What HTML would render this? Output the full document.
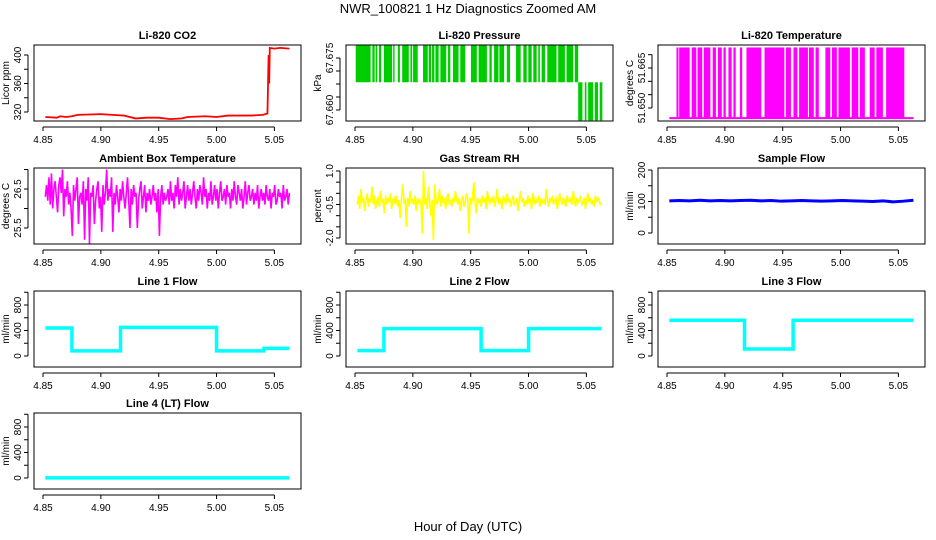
<!DOCTYPE html>
<html><head><meta charset="utf-8"><style>
body{margin:0;background:#fff;}
svg{display:block;font-family:"Liberation Sans",sans-serif;}
</style></head><body>
<svg id="c" width="936" height="540">
<text x="468" y="13" text-anchor="middle" font-size="13">NWR_100821  1 Hz Diagnostics Zoomed AM</text>
<text x="468" y="531" text-anchor="middle" font-size="13">Hour of Day (UTC)</text>
</svg>
<script>
// ---- data ----
const xTicks=[4.85,4.90,4.95,5.00,5.05];
const xTickLabels=["4.85","4.90","4.95","5.00","5.05"];
const tStart=4.852, tEnd=5.063;
const co2T=[4.852,4.862,4.865,4.870,4.875,4.880,4.900,4.910,4.920,4.930,4.940,4.950,4.960,4.970,4.975,4.990,5.000,5.010,5.030,5.040,5.044,5.045,5.0455,5.046,5.050,5.055,5.063];
const co2V=[313,312,314,313,314,316,317,316,315,311,312,312,310,311,313,314,313,315,315,316,318,400,360,410,409,410,409];
const presHigh=[[4.8506,4.8635],[4.865,4.867],[4.8678,4.8692],[4.8707,4.8727],[4.875,4.8821],[4.883,4.8842],[4.887,4.8888],[4.8908,4.8965],[4.8979,4.8994],[4.9002,4.9042],[4.9088,4.9129],[4.9137,4.9157],[4.9166,4.9186],[4.9195,4.9223],[4.9238,4.9289],[4.9304,4.9324],[4.9347,4.9395],[4.941,4.9453],[4.9502,4.9553],[4.9568,4.964],[4.9662,4.9682],[4.9702,4.974],[4.9748,4.9789],[4.9812,4.984],[4.9892,4.9932],[4.9955,4.9984],[4.9998,5.0027],[5.0041,5.007],[5.0084,5.0098],[5.0113,5.0142],[5.0162,5.0242],[5.0256,5.0314],[5.0328,5.0386],[5.04,5.0429]];
const presLow=[[5.0429,5.0466],[5.0486,5.05],[5.0515,5.0558],[5.0572,5.06],[5.0615,5.0638]];
const presLevels=[67.657,67.668,67.679];
const tempHigh=[[4.8582,4.8599],[4.8605,4.8696],[4.8713,4.8753],[4.8764,4.8804],[4.8818,4.8875],[4.8895,4.8923],[4.894,4.8974],[4.8988,4.9008],[4.9031,4.9059],[4.9074,4.9094],[4.913,4.915],[4.9187,4.9315],[4.9343,4.9514],[4.9528,4.9571],[4.9593,4.9627],[4.9642,4.9718],[4.9727,4.9769],[4.9784,4.9812],[4.9869,4.9911],[4.9926,4.9968],[4.9982,5.0081],[5.0096,5.0153],[5.0167,5.021],[5.0252,5.0295],[5.0309,5.0366],[5.0394,5.0551]];
const tempLevels=[51.6462,51.6727];
const ambV=[26.3,26.6,26.2,26.8,26.1,26.9,26.0,26.5,26.7,26.3,25.9,26.6,26.8,26.4,27.0,25.8,26.5,26.3,26.7,26.1,26.4,26.0,25.3,26.6,26.2,26.5,26.8,25.6,26.3,26.4,26.1,26.7,25.2,26.5,26.2,26.8,25.1,26.4,26.3,26.6,25.6,26.2,26.5,26.7,26.0,26.3,25.4,26.6,26.1,26.4,27.0,26.2,26.5,26.3,26.8,25.4,26.4,26.1,26.6,26.3,25.9,26.5,26.2,26.7,26.3,26.0,26.4,26.8,26.2,25.5,26.5,26.1,26.6,26.3,26.4,25.5,26.2,26.5,26.7,26.0,26.3,26.6,25.9,26.4,26.2,26.5,26.1,26.3,26.6,26.2,26.4,25.9,26.5,25.3,26.3,26.6,26.1,26.4,26.2,26.3,
26.5,26.1,26.7,26.2,26.4,26.0,26.6,26.3,26.8,26.1,26.5,26.2,26.4,26.7,26.0,26.3,26.6,26.2,26.5,26.1,26.4,26.7,26.3,26.0,26.5,26.2,26.6,26.4,26.1,26.8,26.3,26.5,26.0,26.4,26.2,26.7,26.1,26.3,26.6,26.2,26.5,26.0,26.4,26.7,26.2,26.3,26.5,26.1,26.6,26.3,26.4,26.0,26.5,26.2,26.7,26.3,26.1,26.6,26.4,26.2,26.5,26.0,26.3,26.7,26.1,26.4,26.6,26.2,26.3,26.5,26.1,26.4,26.2,26.6,26.0,26.3,26.5,26.2,26.4,26.1,26.6,26.3,26.2,26.5,26.0,26.4,26.3,26.6,26.1,26.2,26.5,26.3,26.4,26.0,26.6,26.2,26.3,26.5,26.1,26.4];
const rhV=[-0.5,-0.1,-0.7,0.2,-0.4,-0.2,-0.8,-0.3,0.0,-0.6,-0.2,-0.4,0.3,-0.5,-0.1,-0.7,-0.3,-0.2,-0.6,0.1,-0.4,-0.3,-0.9,-0.1,-0.5,-0.2,-0.4,0.0,-0.7,-0.3,-0.2,-0.5,-0.1,-0.6,-0.3,-1.1,-0.2,0.4,-0.4,-0.3,-1.5,-0.2,-0.6,0.1,-0.4,-0.3,-0.5,-0.1,-0.8,-0.2,-0.4,-0.3,-0.6,-1.8,1.0,-0.5,-0.2,-0.7,0.3,-0.4,-1.0,-0.3,-2.1,0.4,-0.2,-0.5,-0.3,0.2,-0.6,-0.1,-0.4,-0.3,-0.7,-0.2,0.0,-0.5,-0.3,-0.6,-0.2,-0.4,0.1,-0.3,-0.5,-0.2,-0.8,-0.3,-0.1,-0.6,-0.4,0.0,-0.3,-1.8,-0.2,-0.5,-0.1,0.5,-0.4,-0.9,-0.2,-0.4,
-0.3,-0.6,-0.1,-0.4,-0.2,-0.7,0.1,-0.3,-0.5,-0.2,-0.4,-0.1,-0.6,-0.3,0.2,-0.5,-0.2,-0.4,-0.7,-0.1,-0.3,-0.5,0.0,-0.4,-0.2,-0.6,-0.3,-0.1,-0.5,-0.4,-0.2,-0.8,-0.3,0.1,-0.4,-0.2,-0.6,-0.3,-0.5,-0.1,-0.4,-0.3,-0.7,0.0,-0.2,-0.5,-0.3,-0.4,-0.1,-0.6,-0.2,-0.4,-0.3,-0.5,0.2,-0.3,-0.6,-0.2,-0.4,-0.1,-0.5,-0.3,-0.2,-0.7,-0.4,0.0,-0.3,-0.5,-0.2,-0.4,-0.6,-0.1,-0.3,-0.4,-0.2,-0.5,0.1,-0.3,-0.6,-0.2,-0.4,-0.3,-0.1,-0.5,-0.4,-0.2,-0.7,-0.3,0.0,-0.4,-0.2,-0.5,-0.3,-0.6,-0.1,-0.4,-0.2,-0.3,-0.5,-0.4];
const sampV=[102,103,102,104,102,103,102,103,104,102,103,101,102,103,102,101,102,103,102,101,100,102,99,101,104];
const line1T=[4.852,4.875,4.917,5.000,5.041,5.063];
const line1V=[440,80,450,80,120];
const line2T=[4.852,4.875,4.959,5.000,5.063];
const line2V=[85,430,85,430];
const line3T=[4.852,4.917,4.959,5.063];
const line3V=[560,110,560];
const line4T=[4.852,5.063];
const line4V=[2];
// ---- layout ----
const NS="http://www.w3.org/2000/svg";
const svg=document.getElementById('c');
function el(tag,attrs,parent){const e=document.createElementNS(NS,tag);for(const k in attrs)e.setAttribute(k,attrs[k]);(parent||svg).appendChild(e);return e;}
const cols=[34,346,658], rows=[45,168,291,413], W=267, H=76;
function makePanel(col,row,title,ylab,yRef,yTicks,yLabels,name){
  const L=cols[col],T=rows[row];
  const g=el('g',{});
  
  
  const x=v=>L+9+(v-4.85)*1157;
  const y=v=>T+yRef[1]+(v-yRef[0])*(yRef[3]-yRef[1])/(yRef[2]-yRef[0]);
  const t=el('text',{x:L+W/2,y:T-6,'text-anchor':'middle','font-size':11,'font-weight':'bold'},g);t.textContent=title;
  
  const yt=el('text',{transform:`translate(${L-25},${T+H/2}) rotate(-90)`,'text-anchor':'middle','font-size':10},g);yt.textContent=ylab;
  
  const xa=el('g',{},g);
  
  el('line',{x1:x(4.85),x2:x(5.05),y1:T+H+6,y2:T+H+6,stroke:'#000'},xa);
  xTicks.forEach((v,i)=>{el('line',{x1:x(v),x2:x(v),y1:T+H+6,y2:T+H+10,stroke:'#000'},xa);
    const tl=el('text',{x:x(v),y:T+H+22,'text-anchor':'middle','font-size':10},xa);tl.textContent=xTickLabels[i];});
  const ya=el('g',{},g);
  
  el('line',{x1:L-6,x2:L-6,y1:y(yTicks[0]),y2:y(yTicks[yTicks.length-1]),stroke:'#000'},ya);
  yTicks.forEach((v,i)=>{el('line',{x1:L-10,x2:L-6,y1:y(v),y2:y(v),stroke:'#000'},ya);
    if(yLabels[i]){const tl=el('text',{transform:`translate(${L-13},${y(v)}) rotate(-90)`,'text-anchor':'middle','font-size':10},ya);tl.textContent=yLabels[i];}});
  const clip='clip'+name;
  const cp=el('clipPath',{id:clip},g);el('rect',{x:L,y:T,width:W,height:H},cp);
  const d=el('g',{'clip-path':`url(#${clip})`},g);
  
  el('rect',{x:L,y:T,width:W,height:H,fill:'none',stroke:'#000'},g);
  return {x,y,d};
}
function stepPath(p,T,V){let s=`M${p.x(T[0])},${p.y(V[0])}`;for(let i=0;i<V.length;i++){s+=`L${p.x(T[i])},${p.y(V[i])}L${p.x(T[i+1])},${p.y(V[i])}`;}return s;}
function evenPath(p,V){let s='';V.forEach((v,i)=>{const t=tStart+(tEnd-tStart)*i/(V.length-1);s+=(i?'L':'M')+p.x(t)+','+p.y(v);});return s;}
function bands(p,iv,lo,hi,color){iv.forEach(a=>{const r=el('rect',{x:p.x(a[0]),y:p.y(hi),width:Math.max(1,p.x(a[1])-p.x(a[0])),height:p.y(lo)-p.y(hi),fill:color},p.d);
  });}

let p;
p=makePanel(0,0,'Li-820 CO2','Licor ppm',[320,67,400,10],[320,340,360,380,400],['320','','360','','400'],'co2');
let pa=el('path',{d:(()=>{let s='';co2T.forEach((t,i)=>{s+=(i?'L':'M')+p.x(t)+','+p.y(co2V[i]);});return s;})(),fill:'none',stroke:'#f00','stroke-width':1.8},p.d);


p=makePanel(1,0,'Li-820 Pressure','kPa',[67.660,65,67.675,13],[67.660,67.66375,67.6675,67.67125,67.675],['67.660','','','','67.675'],'pressure');
bands(p,presHigh,presLevels[1],presLevels[2],'#00cd00');
bands(p,presLow,presLevels[0],presLevels[1],'#00cd00');
el('line',{x1:p.x(4.852),x2:p.x(5.043),y1:p.y(presLevels[2]),y2:p.y(presLevels[2]),stroke:'#00cd00'},p.d);

p=makePanel(2,0,'Li-820 Temperature','degrees C',[51.650,63,51.665,23],[51.650,51.655,51.660,51.665,51.670],['51.650','','','51.665',''],'li820-temp');
bands(p,tempHigh,tempLevels[0],tempLevels[1],'#f0f');
el('line',{x1:p.x(tStart),x2:p.x(tEnd),y1:p.y(tempLevels[0]),y2:p.y(tempLevels[0]),stroke:'#f0f','stroke-width':2},p.d);

p=makePanel(0,1,'Ambient Box Temperature','degrees C',[25.5,60,26.5,21],[25.5,26.0,26.5,27.0],['25.5','','26.5',''],'ambient');
pa=el('path',{d:evenPath(p,ambV),fill:'none',stroke:'#f0f','stroke-width':1.6},p.d);


p=makePanel(1,1,'Gas Stream RH','percent',[1.0,3,-2.0,70],[-2.0,-1.5,-1.0,-0.5,0,0.5,1.0],['-2.0','','','-0.5','','','1.0'],'rh');
pa=el('path',{d:evenPath(p,rhV),fill:'none',stroke:'#ff0','stroke-width':1.6},p.d);


p=makePanel(2,1,'Sample Flow','ml/min',[0,65,200,2],[0,50,100,150,200],['0','','100','','200'],'sample-flow');
pa=el('path',{d:evenPath(p,sampV),fill:'none',stroke:'#00f','stroke-width':3},p.d);


const fRef=[0,65,800,14],fT=[0,200,400,600,800,1000],fL=['0','','400','','800',''];
[[0,2,'Line 1 Flow',line1T,line1V,'line1'],[1,2,'Line 2 Flow',line2T,line2V,'line2'],[2,2,'Line 3 Flow',line3T,line3V,'line3'],[0,3,'Line 4 (LT) Flow',line4T,line4V,'line4']].forEach(c=>{
  const q=makePanel(c[0],c[1],c[2],'ml/min',fRef,fT,fL,c[5]+'-flow');
  const e=el('path',{d:stepPath(q,c[3],c[4]),fill:'none',stroke:'#0ff','stroke-width':3.5},q.d);
  
  
});
</script>
</body></html>
